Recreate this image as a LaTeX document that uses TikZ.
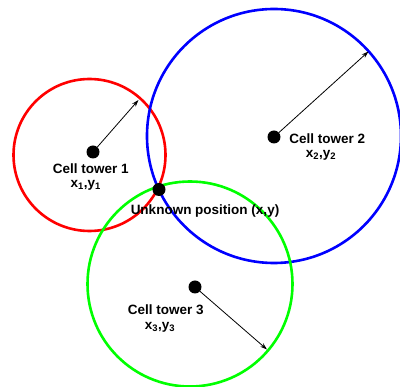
\documentclass[tikz,border=0pt]{standalone}
\usepackage{fontspec}
\setmainfont{Liberation Sans}
\usetikzlibrary{arrows.meta}
\begin{document}
\begin{tikzpicture}[x=1pt,y=-1pt,
  ring/.style={line width=2.6pt},
  dot/.style={circle,fill=black,inner sep=0pt,minimum size=13pt},
  lbl/.style={font=\bfseries\fontsize{13.5}{15}\selectfont,inner sep=0pt},
  radius arrow/.style={line width=0.8pt,-{Stealth[length=7pt,width=4.5pt]}}]
\useasboundingbox (0,0) rectangle (400,387);
\draw[ring,red] (89.5,155) circle[radius=76];
\draw[ring,blue] (274,136) circle[radius=127];
\draw[ring,green] (190,284) circle[radius=102.5];
\node[dot] (t1) at (93,152) {};
\node[dot] (t2) at (274,137) {};
\node[dot] (t3) at (195,287) {};
\node[dot] (u) at (159,189.5) {};
\coordinate (a1) at (138.5,100);
\coordinate (a2) at (368.5,51.5);
\coordinate (a3) at (267,349.5);
\draw[radius arrow] (t1) -- (a1);
\draw[radius arrow] (t2) -- (a2);
\draw[radius arrow] (t3) -- (a3);
\node[lbl] (l1) at (90.7,169) {Cell tower 1};
\node[lbl] (c1) at (85.7,185) {x\textsubscript{1},y\textsubscript{1}};
\node[lbl] (l2) at (327.3,138.5) {Cell tower 2};
\node[lbl] (c2) at (321,155) {x\textsubscript{2},y\textsubscript{2}};
\node[lbl] (lu) at (205,211) {Unknown position (x,y)};
\node[lbl] (l3) at (165.7,310) {Cell tower 3};
\node[lbl] (c3) at (160,327) {x\textsubscript{3},y\textsubscript{3}};
\end{tikzpicture}
\end{document}
